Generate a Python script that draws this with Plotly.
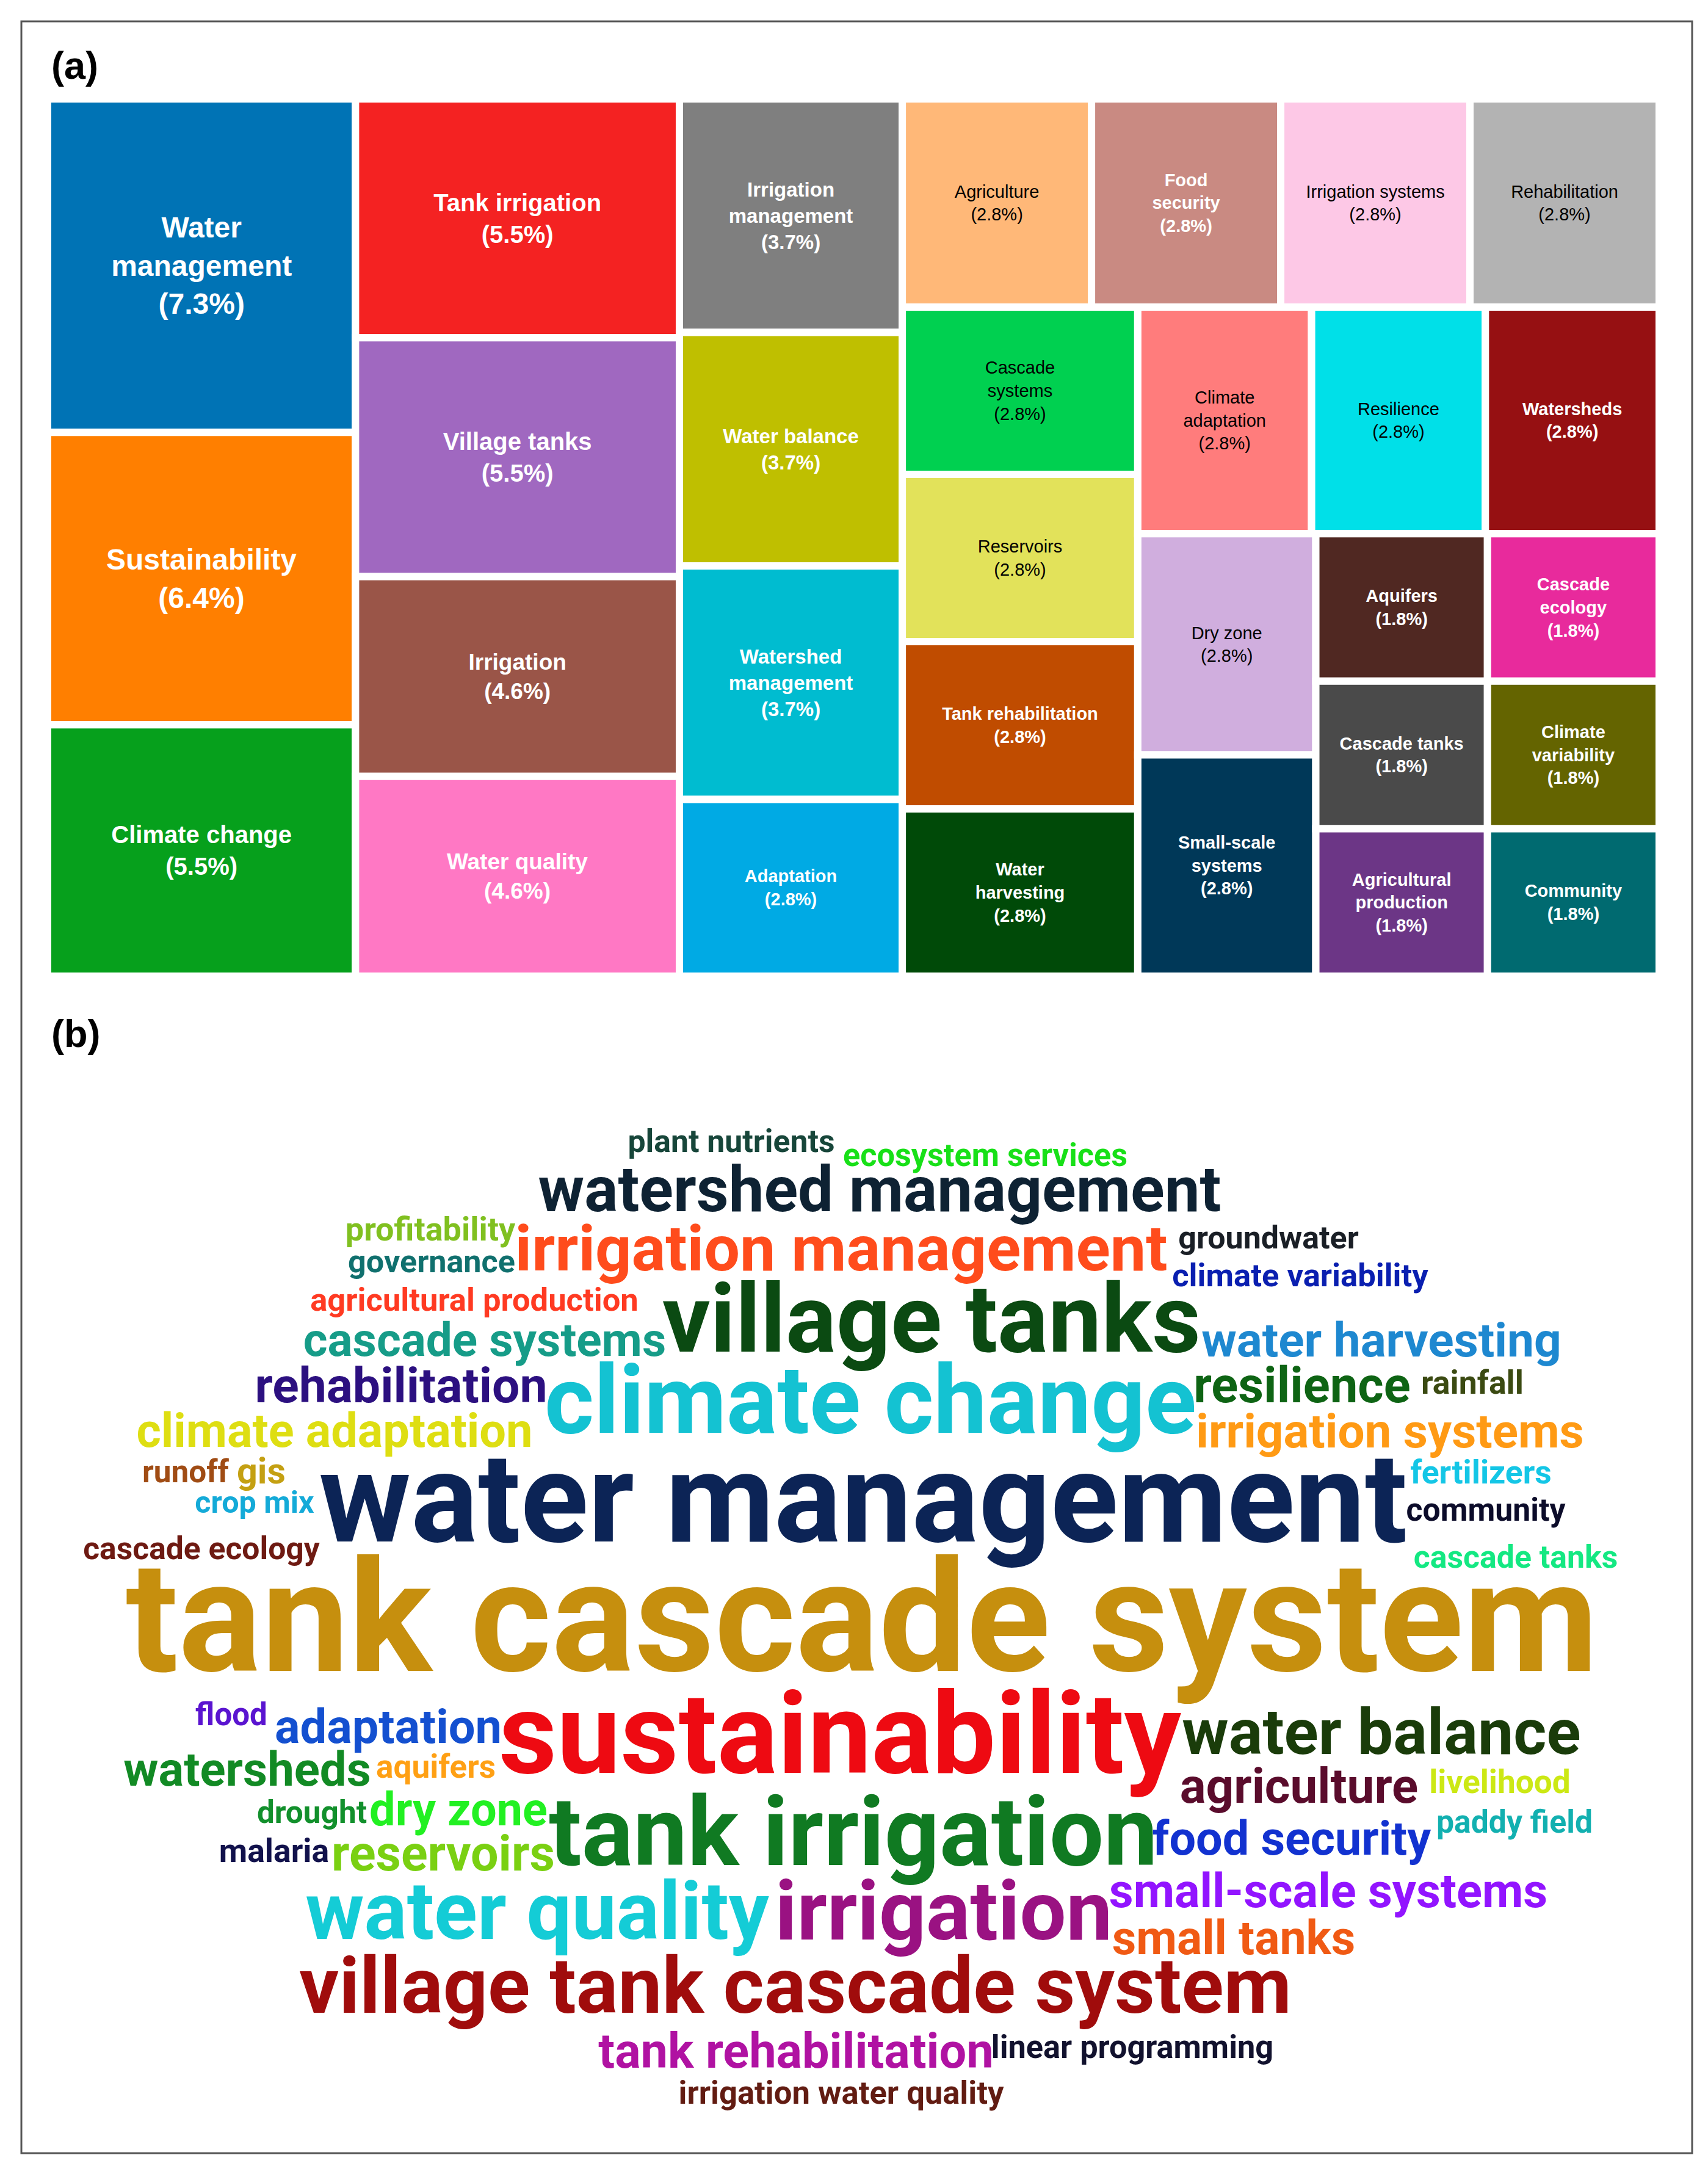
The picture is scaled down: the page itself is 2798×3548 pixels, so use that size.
import plotly.graph_objects as go

W, H = 2798, 3548

# ---- (a) treemap: share of keywords (%)
topics = [
    "Water management", "Sustainability", "Climate change", "Tank irrigation",
    "Village tanks", "Irrigation", "Water quality", "Irrigation management",
    "Water balance", "Watershed management", "Adaptation", "Agriculture",
    "Food security", "Irrigation systems", "Rehabilitation", "Cascade systems",
    "Reservoirs", "Tank rehabilitation", "Water harvesting", "Climate adaptation",
    "Resilience", "Watersheds", "Dry zone", "Small-scale systems", "Aquifers",
    "Cascade ecology", "Cascade tanks", "Agricultural production",
    "Climate variability", "Community",
]
shares = [
    7.3, 6.4, 5.5, 5.5, 5.5, 4.6, 4.6, 3.7, 3.7, 3.7,
    2.8, 2.8, 2.8, 2.8, 2.8, 2.8, 2.8, 2.8, 2.8, 2.8,
    2.8, 2.8, 2.8, 2.8, 1.8, 1.8, 1.8, 1.8, 1.8, 1.8,
]
tile_colors = [
    "#0073b5", "#ff7f00", "#06a01c", "#f42222", "#a068c0", "#9a5548", "#ff78c4",
    "#7f7f7f", "#bfbf00", "#00bcd0", "#00aae4", "#ffb878", "#c98a82", "#fdc8e6",
    "#b3b3b3", "#00d050", "#e2e25a", "#c04c00", "#004a08", "#ff7c7c", "#00e0e8",
    "#961012", "#d0aede", "#003858", "#502822", "#e82a9c", "#4a4a4a", "#6c3686",
    "#646400", "#006a70",
]
dark_label = {"Agriculture", "Irrigation systems", "Rehabilitation", "Cascade systems",
              "Reservoirs", "Climate adaptation", "Resilience", "Dry zone"}
wrap = {
    "Water management": "Water<br>management",
    "Irrigation management": "Irrigation<br>management",
    "Watershed management": "Watershed<br>management",
    "Food security": "Food<br>security",
    "Cascade systems": "Cascade<br>systems",
    "Climate adaptation": "Climate<br>adaptation",
    "Small-scale systems": "Small-scale<br>systems",
    "Water harvesting": "Water<br>harvesting",
    "Agricultural production": "Agricultural<br>production",
    "Climate variability": "Climate<br>variability",
    "Cascade ecology": "Cascade<br>ecology",
}
size_by_share = {7.3: 48, 6.4: 48, 5.5: 40, 4.6: 37, 3.7: 33, 2.8: 29, 1.8: 29}

# ---- (b) word cloud: keyword, centre and width in the reference (px)
words = [
    "plant nutrients", "ecosystem services", "watershed management", "profitability",
    "governance", "irrigation management", "groundwater", "climate variability",
    "agricultural production", "village tanks", "cascade systems", "water harvesting",
    "rehabilitation", "climate change", "resilience", "rainfall", "climate adaptation",
    "irrigation systems", "runoff", "gis", "crop mix", "water management", "fertilizers",
    "community", "cascade ecology", "cascade tanks", "tank cascade system", "flood",
    "adaptation", "sustainability", "water balance", "watersheds", "aquifers",
    "agriculture", "livelihood", "drought", "dry zone", "tank irrigation", "paddy field",
    "food security", "malaria", "reservoirs", "water quality", "irrigation",
    "small-scale systems", "small tanks", "village tank cascade system",
    "tank rehabilitation", "linear programming", "irrigation water quality",
]
word_x = [
    1190, 1606, 1433, 697, 699, 1370, 2070, 2122, 769, 1518, 786, 2255, 649, 1418,
    2125, 2404, 540, 2269, 296, 420, 409, 1406, 2418, 2426, 322, 2475, 1404, 371,
    628, 1368, 2255, 397, 706, 2120, 2449, 503, 743, 1390, 2473, 2108, 441, 718,
    872, 1538, 2168, 2013, 1295, 1296, 1847, 1370,
]
word_y = [
    1866, 1889, 1950, 2011, 2063, 2047, 2024, 2086, 2126, 2167, 2194, 2194, 2269,
    2300, 2269, 2262, 2343, 2343, 2407, 2407, 2457, 2466, 2409, 2470, 2533, 2547,
    2665, 2805, 2828, 2850, 2839, 2898, 2891, 2925, 2916, 2965, 2963, 3008, 2981,
    3011, 3029, 3036, 3135, 3135, 3097, 3174, 3257, 3359, 3350, 3425,
]
word_w = [
    335, 462, 1116, 276, 272, 1061, 294, 416, 534, 873, 595, 584, 475, 1063, 350,
    167, 649, 629, 140, 79, 195, 1780, 226, 260, 387, 335, 2409, 118, 373, 1109,
    652, 404, 195, 385, 229, 179, 288, 984, 255, 452, 181, 360, 754, 543, 708, 398,
    1618, 642, 460, 527,
]
word_colors = [
    "#17463a", "#18e018", "#0e2233", "#80c020", "#10706e", "#ff4c1c", "#1a1f26",
    "#0a1fb0", "#ff3a22", "#0b4a12", "#169c88", "#1e88d0", "#2c1080", "#14c2d2",
    "#0e6414", "#3b4a12", "#dede12", "#ff9a14", "#a04c14", "#c4a012", "#14aad8",
    "#0c2456", "#14c6e6", "#0c0c2a", "#6e1a12", "#14e882", "#c68f0e", "#5a14d0",
    "#1450d0", "#ee0a12", "#1a3c0a", "#128a24", "#ffa014", "#5a0c2c", "#cce814",
    "#12902c", "#22f022", "#107a22", "#12b0b0", "#1232d0", "#12124c", "#7ad012",
    "#14ccd6", "#9a1282", "#9214ff", "#f05a14", "#a00c0c", "#b012a2", "#12122e",
    "#621c12",
]

# approximate bold glyph widths (em) of the word-cloud font
EM = {"a": .547, "b": .562, "c": .522, "d": .564, "e": .531, "f": .351, "g": .562,
      "h": .554, "i": .255, "j": .25, "k": .521, "l": .255, "m": .875, "n": .554,
      "o": .569, "p": .562, "q": .566, "r": .349, "s": .516, "t": .332, "u": .554,
      "v": .496, "w": .745, "x": .5, "y": .49, "z": .5, " ": .247, "-": .272}
WORD_FONT = "Roboto, Liberation Sans, Arial, sans-serif"


def font_for(word, width):
    em = sum(EM.get(ch, .53) for ch in word)
    return width / em


word_sizes = [font_for(w, wd) for w, wd in zip(words, word_w)]

# treemap labels (an explicit white root holds all tiles)
tile_text, tile_font_colors, tile_sizes = [""], ["white"], [12]
for t, v in zip(topics, shares):
    label = wrap.get(t, t) + f"<br>({v}%)"
    if t in dark_label:
        tile_text.append(label)
        tile_font_colors.append("black")
    else:
        tile_text.append(f"<b>{label}</b>")
        tile_font_colors.append("white")
    tile_sizes.append(size_by_share[v])

fig = go.Figure()

fig.add_trace(go.Treemap(
    ids=["root"] + topics,
    labels=[""] + topics,
    parents=[""] + ["root"] * len(topics),
    values=[0] + shares,
    branchvalues="remainder",
    text=tile_text,
    textinfo="text",
    textposition="middle center",
    textfont=dict(family="Liberation Sans, Arial, sans-serif",
                  size=tile_sizes, color=tile_font_colors),
    marker=dict(colors=["white"] + tile_colors, line=dict(color="white", width=12),
                pad=dict(t=0, l=0, r=0, b=0)),
    tiling=dict(packing="squarify", squarifyratio=1.25, pad=0),
    pathbar=dict(visible=False),
    hoverinfo="skip",
    sort=True,
    domain=dict(x=[70 / W, 2710 / W], y=[1 - 1591 / H, 1 - 154 / H]),
))

# word cloud sits in the lower part of the page, in reference pixel units
Y_TOP = 1640
fig.add_trace(go.Scatter(
    x=word_x,
    y=word_y,
    mode="text",
    text=words,
    textposition="middle center",
    textfont=dict(family=WORD_FONT, size=word_sizes, color=word_colors, weight="bold"),
    hoverinfo="skip",
    showlegend=False,
))

fig.update_xaxes(range=[0, W], visible=False, domain=[0, 1], fixedrange=True)
fig.update_yaxes(range=[H, Y_TOP], visible=False, domain=[0, 1 - Y_TOP / H],
                 fixedrange=True)

# outer frame
fig.add_shape(type="rect", xref="paper", yref="paper",
              x0=27 / W, x1=2764 / W, y0=1 - 3519 / H, y1=1 - 27 / H,
              line=dict(color="#555555", width=3), fillcolor="rgba(0,0,0,0)")

for lab, ytop in [("(a)", 62), ("(b)", 1648)]:
    fig.add_annotation(text=f"<b>{lab}</b>", xref="paper", yref="paper",
                       x=74 / W, y=1 - ytop / H, xanchor="left", yanchor="top",
                       showarrow=False,
                       font=dict(family="Liberation Sans, Arial, sans-serif",
                                 size=63, color="black"))

fig.update_layout(
    width=W, height=H,
    margin=dict(l=0, r=0, t=0, b=0),
    paper_bgcolor="white",
    plot_bgcolor="rgba(0,0,0,0)",
    showlegend=False,
)

fig.write_html("out.html")
